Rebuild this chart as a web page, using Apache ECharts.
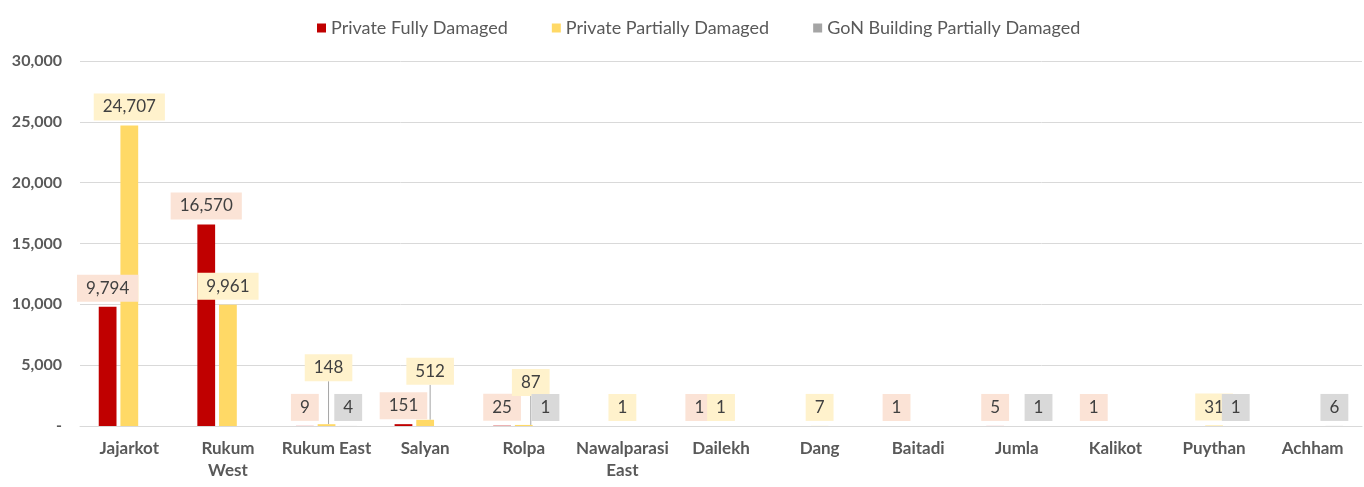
<!DOCTYPE html>
<html>
<head>
<meta charset="utf-8">
<script src="https://cdn.jsdelivr.net/npm/echarts@6/dist/echarts.min.js"></script>
<style>
  html, body { margin: 0; padding: 0; background: #fff; }
  #chart { width: 1364px; height: 487px; }
</style>
</head>
<body>
<div id="chart"></div>
<script>
const districts = ["Jajarkot", "Rukum\nWest", "Rukum East", "Salyan", "Rolpa", "Nawalparasi\nEast",
  "Dailekh", "Dang", "Baitadi", "Jumla", "Kalikot", "Puythan", "Achham"];
const fullyDamaged = [9794, 16570, 9, 151, 25, null, 1, null, 1, 5, 1, null, null];
const partiallyDamaged = [24707, 9961, 148, 512, 87, 1, 1, 7, null, null, null, 31, null];
const gonDamaged = [null, null, 4, null, 1, null, null, null, null, 1, null, 1, 6];
const yTicks = [0, 5000, 10000, 15000, 20000, 25000, 30000];

// labels Excel pulled up with a leader line (series index -> data index -> shift)
const movedLabels = {
  1: { 2: { dx: 2, dy: -38 }, 3: { dx: 5, dy: -30 }, 4: { dx: 7, dy: -24 } }
};

const chart = echarts.init(document.getElementById("chart"));

function barSeries(name, data, color, labelBg, idx) {
  const moved = movedLabels[idx] || {};
  return {
    name: name,
    type: "bar",
    data: data.map((v, i) => (moved[i] ? { value: v, labelLine: { show: true } } : v)),
    itemStyle: { color: color },
    barGap: "22%",
    barCategoryGap: "38%",
    label: {
      show: true,
      position: "top",
      distance: 5,
      color: "#404040",
      fontSize: 17,
      fontFamily: "Lato",
      backgroundColor: labelBg,
      padding: [5, 9, 5, 9],
      formatter: (p) => (p.value == null ? "" : p.value.toLocaleString("en-US"))
    },
    labelLine: { show: false, lineStyle: { color: "#A6A6A6", width: 1 } },
    labelLayout: function (params) {
      const m = moved[params.dataIndex];
      return m ? { dx: m.dx, dy: m.dy } : {};
    }
  };
}

chart.setOption({
  animation: false,
  textStyle: { fontFamily: "Lato" },
  legend: {
    top: 14,
    left: 312,
    itemWidth: 9,
    itemHeight: 9,
    itemGap: 44,
    icon: "rect",
    textStyle: { color: "#595959", fontSize: 18, fontFamily: "Lato" },
    data: ["Private Fully Damaged", "Private Partially Damaged", "GoN Building Partially Damaged"]
  },
  grid: { left: 80, right: 2, top: 61, bottom: 61 },
  xAxis: {
    type: "category",
    data: districts,
    axisLine: { lineStyle: { color: "#D9D9D9" } },
    axisTick: { show: false },
    axisLabel: {
      color: "#595959",
      fontSize: 17,
      fontWeight: "bold",
      fontFamily: "Lato",
      margin: 12,
      lineHeight: 22,
      interval: 0
    }
  },
  yAxis: {
    type: "value",
    min: yTicks[0],
    max: yTicks[yTicks.length - 1],
    interval: 5000,
    axisLine: { show: false },
    axisTick: { show: false },
    splitLine: { lineStyle: { color: "#D9D9D9" } },
    axisLabel: {
      color: "#595959",
      fontSize: 16,
      fontWeight: "bold",
      fontFamily: "Lato",
      margin: 18,
      formatter: (v) => (v === 0 ? "-" : v.toLocaleString("en-US"))
    }
  },
  series: [
    barSeries("Private Fully Damaged", fullyDamaged, "#C00000", "#FBE3D6", 0),
    barSeries("Private Partially Damaged", partiallyDamaged, "#FFD966", "#FFF2CC", 1),
    barSeries("GoN Building Partially Damaged", gonDamaged, "#A5A5A5", "#D9D9D9", 2)
  ]
});
</script>
</body>
</html>
